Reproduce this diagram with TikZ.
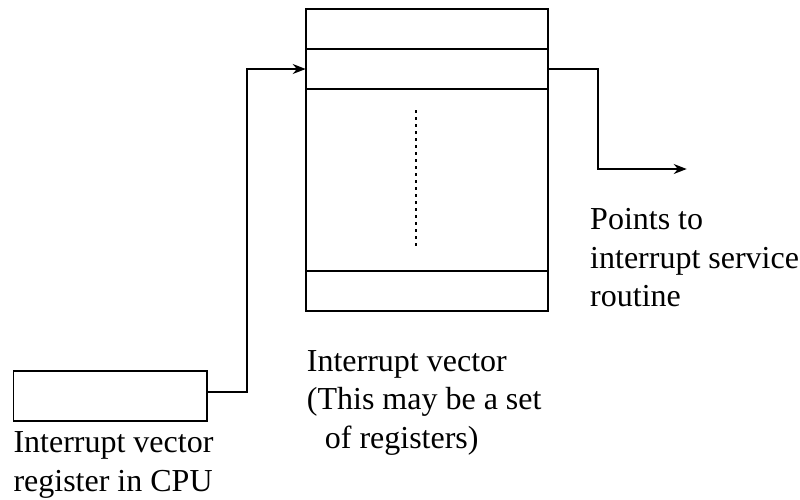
\documentclass[tikz,border=0pt]{standalone}
\usepackage{fontspec}
\setmainfont{Liberation Serif}
\usetikzlibrary{arrows.meta,calc}
\begin{document}
\begin{tikzpicture}[x=1pt,y=-1pt,
  box/.style={draw, line width=1.6pt, inner sep=0, outer sep=0},
  arr/.style={line width=1.6pt, -{Stealth[length=13pt,width=10pt]}},
  lbl/.style={anchor=north west, inner sep=0, align=left, font={\fontsize{32}{38.5}\selectfont}}]
\useasboundingbox (0,0) rectangle (800,499);
% interrupt vector table
\node[box, minimum width=242pt, minimum height=40pt] (row1) at (426.7,29) {};
\node[box, minimum width=242pt, minimum height=40pt] (row2) at (426.7,69) {};
\node[box, minimum width=242pt, minimum height=182pt] (mid) at (426.7,180) {};
\node[box, minimum width=242pt, minimum height=40pt] (rowlast) at (426.7,291) {};
\draw[line width=1.6pt, dash pattern=on 2.5pt off 4.5pt] (415.7,110) -- (415.7,250);
% CPU register
\node[box, minimum width=193.4pt, minimum height=50pt] (cpu) at (110,396) {};
% connectors
\draw[arr] ([yshift=4.3pt]cpu.east) -- ++(40,0) |- (row2.west);
\coordinate (outend) at (686.7,169);
\draw[arr] (row2.east) -- ++(50,0) |- (outend);
% labels
\node[lbl] (l1) at (13.3,431.5) {Interrupt vector\\register in CPU};
\node[lbl] (l2) at (306.7,350) {Interrupt vector\\(This may be a set\\\hspace*{18pt}of registers)};
\node[lbl] (l3) at (590,208.5) {Points to\\interrupt service\\routine};
\end{tikzpicture}
\end{document}
